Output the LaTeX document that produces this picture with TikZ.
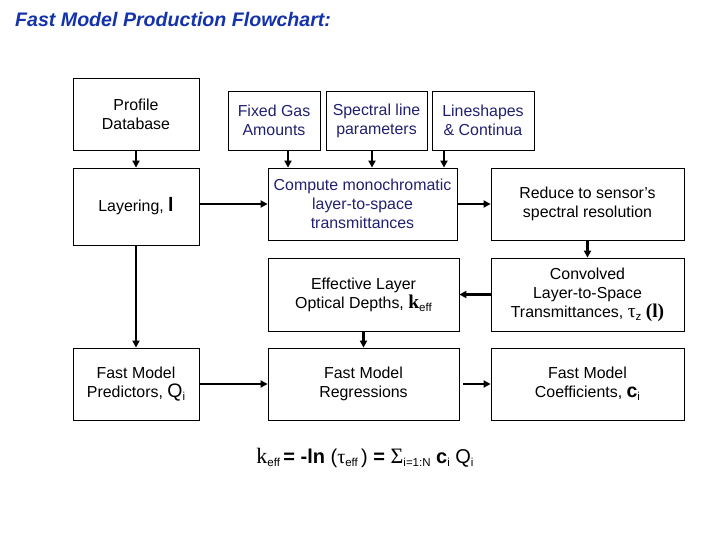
\documentclass[tikz,border=0pt]{standalone}
\usepackage{fontspec}
\setmainfont{Liberation Sans}
\newfontfamily\serifB{Liberation Serif}
\usetikzlibrary{arrows.meta}
\definecolor{navytxt}{RGB}{32,32,112}
\definecolor{titleblue}{RGB}{20,50,170}
\newcommand\mysub[1]{\raisebox{-0.35ex}{\fontsize{11.5bp}{11.5bp}\selectfont #1}}
\newcommand\bigsym[1]{{\fontsize{19.5bp}{19.5bp}\selectfont #1}}
\begin{document}
\begin{tikzpicture}[x=1bp,y=-1bp,
  box/.style={draw, line width=0.8bp, inner sep=0pt, align=center,
    font=\fontsize{15.9bp}{19bp}\selectfont},
  navybox/.style={box, text=navytxt},
  arr/.style={line width=2.2bp, -{Triangle[length=7bp,width=7bp]}}]
\useasboundingbox (0,0) rectangle (720,540);

\node[anchor=base west, inner sep=0, text=titleblue,
  font=\fontsize{19.6bp}{19.6bp}\selectfont\bfseries\itshape] (title) at (15,27)
  {Fast Model Production Flowchart:};

% column 1
\node[box, minimum width=126bp, minimum height=72bp] (prof) at (136,114) {Profile\\Database};
\node[box, minimum width=126bp, minimum height=77bp] (lay) at (136,206.5) {Layering, \bigsym{\bfseries l}};
\node[box, minimum width=126bp, minimum height=72bp] (pred) at (136,384) {Fast Model\\Predictors, \bigsym{Q}\mysub{i}};

% top inputs
\node[navybox, minimum width=92bp, minimum height=59bp] (gas) at (274,120.5) {Fixed Gas\\Amounts};
\node[navybox, minimum width=101bp, minimum height=59bp] (spec) at (376.5,120.5) {Spectral line\\parameters};
\node[navybox, minimum width=102bp, minimum height=59bp] (lsh) at (483,120.5) {Lineshapes\\\& Continua};

% column 2
\node[navybox, minimum width=189bp, minimum height=72bp] (comp) at (362.5,204) {Compute monochromatic\\layer-to-space\\transmittances};
\node[box, minimum width=191bp, minimum height=73bp] (eff) at (363.5,294.5) {Effective Layer\\Optical Depths, \bigsym{\serifB\bfseries k}\mysub{eff}};
\node[box, minimum width=191bp, minimum height=72bp] (reg) at (363.5,384) {Fast Model\\Regressions};

% column 3
\node[box, minimum width=193bp, minimum height=72bp] (red) at (587.5,204) {Reduce to sensor's\\spectral resolution};
\node[box, minimum width=193bp, minimum height=73bp] (conv) at (587.5,294.5) {Convolved\\Layer-to-Space\\Transmittances, \bigsym{\serifB τ}\mysub{z} \bigsym{\serifB\bfseries (l)}};
\node[box, minimum width=193bp, minimum height=72bp] (coef) at (587.5,384) {Fast Model\\Coefficients, \bigsym{\bfseries c}\mysub{i}};

% formula
\node[anchor=base, inner sep=0, font=\fontsize{20bp}{20bp}\selectfont] (form) at (365,463)
  {{\fontsize{22bp}{22bp}\selectfont\serifB k}\mysub{eff}\,{\bfseries = -ln} ({\serifB τ}\mysub{eff}\,) {\bfseries =} {\fontsize{22bp}{22bp}\selectfont\serifB Σ}\mysub{i=1:N} {\bfseries c}\mysub{i} Q\mysub{i}};

% connectors
\draw[arr] (prof.south) -- (lay.north);
\draw[arr] (lay.south) -- (pred.north);
\draw[arr] (lay.east |- comp.west) -- (comp.west);
\draw[arr] ([xshift=14bp]gas.south) -- ([xshift=14bp]gas.south |- comp.north);
\draw[arr] ([xshift=-4.5bp]spec.south) -- ([xshift=-4.5bp]spec.south |- comp.north);
\draw[arr] ([xshift=-39bp]lsh.south) -- ([xshift=-39bp]lsh.south |- comp.north);
\draw[arr] (comp.east) -- (red.west);
\draw[arr] (red.south) -- (conv.north);
\draw[arr] (conv.west) -- (eff.east);
\draw[arr] (eff.south) -- (reg.north);
\draw[arr] (pred.east) -- (reg.west);
\draw[arr] ([xshift=4bp]reg.east) -- (coef.west);
\end{tikzpicture}
\end{document}
